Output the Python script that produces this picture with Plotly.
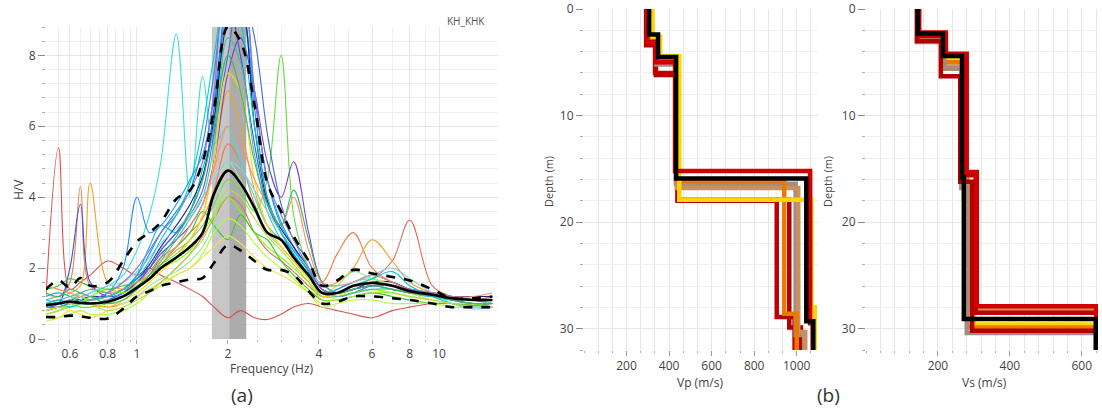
import plotly.graph_objects as go

# ---------------- Panel (a): HVSR curves ----------------
freq = [0.5, 0.55, 0.6, 0.65, 0.7, 0.8, 0.9, 1.0, 1.1, 1.2, 1.35, 1.5, 1.65, 1.8, 2.0, 2.2,
        2.45, 2.7, 3.0, 3.3, 3.7, 4.1, 4.6, 5.2, 6.0, 7.0, 8.0, 9.5, 11, 13, 15]

hv_mean = [0.95, 1.0, 1.05, 1.02, 1.0, 1.05, 1.2, 1.45, 1.7, 2.0, 2.3, 2.6, 3.0, 4.1, 4.75, 4.4,
           3.7, 3.0, 2.8, 2.3, 1.8, 1.3, 1.3, 1.5, 1.58, 1.5, 1.35, 1.25, 1.15, 1.1, 1.1]
hv_upper = [1.4, 1.65, 1.45, 1.72, 1.5, 1.6, 2.2, 2.75, 3.0, 3.3, 3.95, 4.2, 5.0, 6.5, 8.8, 8.4,
            6.6, 4.4, 3.6, 2.9, 2.2, 1.5, 1.65, 1.95, 1.85, 1.75, 1.65, 1.4, 1.15, 1.15, 1.2]
hv_lower = [0.62, 0.62, 0.66, 0.64, 0.6, 0.58, 0.85, 1.2, 1.35, 1.5, 1.6, 1.68, 1.72, 2.15, 2.65, 2.5,
            2.2, 1.95, 1.95, 1.8, 1.35, 1.0, 1.05, 1.2, 1.2, 1.15, 1.1, 1.0, 0.9, 0.9, 0.9]

curve_colors = ["#d9534f", "#e07060", "#e8804a", "#f0a030", "#40e0d0", "#66dd44", "#3355dd",
                "#7744cc", "#2288ee", "#00bcd4", "#1e90ff", "#4169e1", "#1a237e", "#7fff00",
                "#32cd32", "#adff2f", "#90ee90", "#f5e050", "#ffd700", "#40c0a0", "#87ceeb",
                "#ff8c69", "#9370db", "#00ced1", "#3cb371", "#b0e040"]
curves = [
    [1.2, 5.4, 1.4, 1.6, 1.8, 2.2, 2.0, 1.8, 2.0, 1.8, 1.6, 1.4, 1.2, 0.9, 0.6, 0.8, 0.6, 0.55, 0.7, 0.9, 1.0, 0.9, 0.8, 0.7, 0.6, 0.8, 0.9, 1.0, 1.0, 0.95, 1.0],
    [0.9, 1.0, 1.1, 1.2, 1.0, 0.9, 1.0, 1.2, 1.4, 1.6, 2.0, 2.4, 2.9, 3.4, 4.0, 3.8, 3.0, 2.5, 2.2, 1.9, 1.5, 1.2, 1.3, 1.5, 1.7, 2.2, 3.35, 1.5, 1.2, 1.1, 1.2],
    [1.3, 1.2, 1.6, 4.3, 1.5, 1.3, 1.4, 1.6, 1.9, 2.3, 2.6, 3.0, 3.4, 4.2, 5.5, 5.0, 3.8, 3.0, 2.6, 2.2, 1.8, 1.6, 2.4, 3.0, 2.0, 1.6, 1.4, 1.3, 1.2, 1.1, 1.2],
    [1.1, 1.2, 1.3, 1.5, 4.4, 1.6, 1.4, 1.5, 1.8, 2.1, 2.5, 2.8, 3.5, 5.0, 7.0, 6.0, 4.2, 3.2, 2.8, 2.5, 2.0, 1.5, 1.6, 2.0, 2.8, 2.2, 1.6, 1.3, 1.2, 1.1, 1.1],
    [0.9, 1.0, 1.1, 1.2, 1.3, 1.5, 1.8, 2.5, 3.5, 5.0, 8.6, 4.0, 7.4, 5.5, 6.0, 5.0, 4.0, 3.2, 2.8, 2.4, 1.8, 1.3, 1.4, 1.6, 1.7, 1.5, 1.4, 1.2, 1.1, 1.0, 1.0],
    [1.0, 1.1, 1.0, 0.9, 0.9, 1.0, 1.2, 1.5, 1.8, 2.1, 2.4, 2.8, 3.2, 3.8, 4.5, 4.2, 3.6, 4.5, 8.0, 3.5, 2.0, 1.4, 1.3, 1.4, 1.5, 1.4, 1.3, 1.2, 1.1, 1.0, 1.0],
    [0.9, 1.0, 2.0, 3.8, 1.6, 1.2, 1.3, 1.6, 2.0, 2.5, 3.0, 3.6, 4.5, 6.5, 9.5, 8.0, 5.5, 3.8, 3.0, 2.5, 1.9, 1.3, 1.3, 1.5, 1.6, 1.5, 1.4, 1.3, 1.2, 1.1, 1.1],
    [0.8, 0.9, 1.0, 1.1, 1.1, 1.2, 1.4, 1.7, 2.0, 2.4, 2.8, 3.2, 3.8, 5.0, 7.5, 8.5, 7.0, 5.0, 4.0, 5.0, 3.0, 1.6, 1.3, 1.4, 1.5, 1.4, 1.3, 1.2, 1.1, 1.0, 1.0],
    [1.0, 1.1, 1.0, 1.2, 1.1, 1.2, 1.4, 1.8, 2.4, 3.0, 3.6, 4.2, 5.5, 7.5, 10, 9.5, 6.5, 4.0, 3.0, 2.4, 1.8, 1.2, 1.4, 1.6, 1.8, 1.6, 1.4, 1.2, 1.1, 1.1, 1.0],
    [1.2, 1.3, 1.2, 1.1, 1.0, 1.1, 1.3, 1.8, 2.6, 3.2, 3.0, 3.6, 4.8, 6.0, 9.5, 10, 7.0, 4.5, 3.3, 2.6, 1.9, 1.3, 1.3, 1.5, 1.6, 1.5, 1.4, 1.3, 1.2, 1.1, 1.1],
    [0.9, 0.9, 1.0, 1.0, 1.1, 1.3, 2.0, 4.0, 3.0, 3.2, 3.8, 4.5, 5.2, 6.8, 9.0, 9.2, 6.8, 4.5, 3.2, 2.6, 1.9, 1.3, 1.3, 1.4, 1.5, 1.5, 1.3, 1.2, 1.2, 1.1, 1.1],
    [0.8, 0.9, 0.9, 1.0, 1.0, 1.1, 1.3, 1.6, 2.0, 2.5, 3.0, 3.5, 4.2, 5.8, 8.0, 10, 8.5, 5.8, 3.8, 2.8, 2.2, 1.4, 1.2, 1.3, 1.5, 1.5, 1.4, 1.3, 1.2, 1.1, 1.0],
    [1.0, 1.0, 1.1, 1.1, 1.2, 1.2, 1.4, 1.7, 2.1, 2.6, 3.2, 3.8, 4.6, 6.2, 9.0, 9.5, 6.0, 3.9, 3.1, 2.6, 2.0, 1.4, 1.3, 1.4, 1.6, 1.6, 1.4, 1.3, 1.2, 1.2, 1.2],
    [0.7, 0.8, 0.9, 1.0, 1.2, 1.4, 1.3, 1.5, 1.7, 2.0, 2.2, 2.5, 3.0, 3.5, 4.0, 3.6, 3.0, 2.6, 2.3, 2.0, 1.6, 1.2, 1.2, 1.3, 1.4, 1.3, 1.2, 1.1, 1.0, 1.0, 0.9],
    [1.4, 1.5, 1.7, 1.6, 1.5, 1.4, 1.5, 1.6, 1.8, 2.1, 2.6, 3.0, 3.6, 3.2, 2.8, 3.5, 3.0, 2.8, 2.2, 1.8, 1.4, 1.1, 1.1, 1.2, 1.3, 1.2, 1.1, 1.0, 1.0, 0.95, 0.9],
    [0.6, 0.6, 0.7, 0.8, 0.7, 0.7, 0.8, 1.0, 1.3, 1.5, 1.8, 2.0, 2.4, 3.0, 3.4, 3.2, 2.7, 2.3, 2.0, 1.7, 1.3, 0.9, 1.0, 1.1, 1.1, 1.0, 1.0, 1.0, 0.9, 0.9, 0.9],
    [0.9, 1.0, 1.1, 1.3, 1.2, 1.1, 1.0, 1.2, 1.5, 1.7, 1.9, 2.2, 2.6, 3.3, 5.0, 4.5, 3.6, 3.0, 2.6, 2.2, 1.7, 1.3, 1.5, 1.9, 1.7, 1.5, 1.3, 1.2, 1.1, 1.1, 1.0],
    [0.5, 0.6, 0.8, 0.7, 0.6, 0.8, 1.0, 1.2, 1.4, 1.6, 1.8, 2.0, 2.3, 2.6, 2.9, 2.7, 2.3, 2.0, 1.8, 1.6, 1.3, 1.0, 1.2, 1.4, 1.7, 1.5, 1.3, 1.1, 1.0, 1.0, 1.0],
    [0.8, 0.9, 0.9, 1.0, 1.0, 0.9, 1.1, 1.3, 1.6, 1.9, 2.3, 2.8, 3.5, 5.0, 7.5, 7.0, 4.5, 3.2, 2.6, 2.2, 1.7, 1.2, 1.3, 1.5, 1.6, 1.5, 1.4, 1.3, 1.2, 1.1, 1.1],
    [1.0, 1.1, 1.2, 1.3, 1.4, 1.3, 1.2, 1.4, 1.7, 2.2, 2.8, 3.4, 4.0, 5.5, 8.5, 7.8, 5.2, 3.6, 2.8, 2.3, 1.8, 1.3, 1.2, 1.3, 1.4, 1.4, 1.3, 1.2, 1.1, 1.0, 1.0],
    [1.1, 1.2, 1.0, 1.1, 1.3, 1.5, 1.6, 1.9, 2.3, 2.7, 3.1, 3.5, 4.0, 4.5, 5.0, 4.8, 4.2, 3.6, 3.0, 2.5, 2.0, 1.5, 1.5, 1.6, 1.8, 2.0, 1.7, 1.3, 1.0, 0.85, 0.9],
    [1.5, 1.4, 1.3, 1.2, 1.1, 1.2, 1.4, 1.6, 1.8, 2.2, 2.6, 3.2, 3.8, 4.8, 6.0, 5.5, 4.5, 3.8, 3.2, 4.0, 2.5, 1.6, 1.5, 1.6, 1.8, 1.6, 1.4, 1.3, 1.2, 1.2, 1.3],
    [1.0, 1.0, 1.1, 1.0, 1.1, 1.3, 1.6, 2.0, 2.5, 3.0, 3.5, 4.2, 5.0, 7.0, 10, 10, 7.0, 4.5, 3.5, 2.8, 2.0, 1.4, 1.3, 1.4, 1.5, 1.5, 1.4, 1.3, 1.2, 1.1, 1.1],
    [1.1, 1.0, 0.9, 1.0, 1.1, 1.2, 1.4, 1.7, 2.2, 2.8, 3.5, 4.4, 6.0, 8.0, 10, 9.0, 6.0, 4.0, 3.0, 2.5, 1.9, 1.3, 1.3, 1.5, 1.7, 1.9, 1.5, 1.2, 1.0, 0.9, 0.9],
    [1.3, 1.2, 1.4, 1.3, 1.2, 1.0, 1.1, 1.4, 1.8, 2.3, 2.9, 3.6, 4.5, 6.0, 8.0, 7.0, 5.0, 3.8, 3.2, 4.2, 2.8, 1.6, 1.3, 1.4, 1.5, 1.4, 1.3, 1.2, 1.1, 1.0, 1.0],
    [0.7, 0.8, 1.0, 1.2, 1.0, 0.8, 0.9, 1.1, 1.3, 1.6, 2.0, 2.4, 2.8, 3.5, 4.2, 4.0, 3.4, 2.9, 2.5, 2.1, 1.6, 1.1, 1.1, 1.2, 1.3, 1.3, 1.2, 1.1, 1.0, 0.9, 0.9],
]

# peak-frequency band (Hz)
band_light = [1.77, 2.02]
band_dark = [2.02, 2.30]

# ---------------- Panel (b): velocity profiles ----------------
vp_colors = ["#B00000", "#C00000", "#A58B82", "#C8915F", "#E87A00", "#FFD500", "#D40000", "#000000"]
vp_tops = [
    [0, 3.4, 6.2, 17.9, 29.9],
    [0, 3.3, 6.0, 18.0, 28.9],
    [0, 3.0, 5.2, 16.4, 30.6],
    [0, 2.9, 4.9, 16.8, 30.3],
    [0, 2.7, 4.6, 16.2, 28.6],
    [0, 2.6, 4.4, 17.9, 28.0],
    [0, 3.1, 5.0, 15.2, 29.5],
    [0, 2.4, 4.5, 15.9, 29.3],
]
vp_vals = [
    [292, 338, 440, 965, 1020],
    [294, 334, 440, 906, 990],
    [300, 340, 432, 995, 1035],
    [306, 346, 436, 1007, 1040],
    [318, 352, 442, 941, 1000],
    [322, 358, 448, 1068, 1085],
    [298, 338, 428, 1063, 1075],
    [306, 348, 433, 1045, 1078],
]
vs_colors = ["#FFD500", "#E87A00", "#C8915F", "#A58B82", "#B00000", "#C00000", "#D40000", "#000000"]
vs_tops = [
    [0, 2.6, 4.7, 17.8, 29.6],
    [0, 2.8, 5.0, 16.0, 29.9],
    [0, 2.9, 5.4, 16.5, 28.2],
    [0, 3.1, 5.6, 16.8, 30.4],
    [0, 3.0, 6.3, 16.2, 30.2],
    [0, 2.5, 4.3, 15.6, 28.5],
    [0, 2.2, 4.2, 15.3, 27.9],
    [0, 2.3, 4.4, 15.8, 29.1],
]
vs_vals = [
    [145, 218, 272, 300, 640],
    [145, 212, 268, 282, 640],
    [143, 215, 270, 287, 640],
    [141, 218, 265, 280, 640],
    [142, 208, 262, 295, 640],
    [146, 222, 276, 305, 640],
    [148, 222, 280, 308, 640],
    [144, 214, 267, 272, 639],
]
depth_bottom = 32

W, H = 1102, 409
FONT = "Open Sans"
TXT = "#444444"


def px(x):
    return x / W


def py(y):
    return 1 - y / H


fig = go.Figure()

# band in panel (a)
fig.add_shape(type="rect", xref="x", yref="y", x0=band_light[0], x1=band_light[1], y0=0, y1=8.8,
              fillcolor="#BDBDBD", line_width=0, layer="between", opacity=0.85)
fig.add_shape(type="rect", xref="x", yref="y", x0=band_dark[0], x1=band_dark[1], y0=0, y1=8.8,
              fillcolor="#9E9E9E", line_width=0, layer="between", opacity=0.85)

for c, ys in zip(curve_colors, curves):
    fig.add_trace(go.Scatter(x=freq, y=ys, mode="lines", xaxis="x", yaxis="y",
                             line=dict(color=c, width=1.1, shape="spline", smoothing=1.0),
                             showlegend=False, hoverinfo="skip"))
for ys, dash in [(hv_upper, "dash"), (hv_lower, "dash"), (hv_mean, "solid")]:
    fig.add_trace(go.Scatter(x=freq, y=ys, mode="lines", xaxis="x", yaxis="y",
                             line=dict(color="black", width=2.6, dash=dash, shape="spline", smoothing=1.0),
                             showlegend=False, hoverinfo="skip"))

# velocity profiles
for tops, vals, c in zip(vp_tops, vp_vals, vp_colors):
    fig.add_trace(go.Scatter(x=vals + [vals[-1]], y=tops + [depth_bottom], mode="lines",
                             xaxis="x2", yaxis="y2",
                             line=dict(color=c, width=4.5, shape="vh"),
                             showlegend=False, hoverinfo="skip"))
for tops, vals, c in zip(vs_tops, vs_vals, vs_colors):
    fig.add_trace(go.Scatter(x=vals + [vals[-1]], y=tops + [depth_bottom], mode="lines",
                             xaxis="x3", yaxis="y3",
                             line=dict(color=c, width=4.5, shape="vh"),
                             showlegend=False, hoverinfo="skip"))

tickfont = dict(family=FONT, size=12, color=TXT)
grid_major = "#E6E6E6"
grid_minor = "#EFEFEF"

fig.update_layout(
    width=W, height=H, margin=dict(l=0, r=0, t=0, b=0),
    paper_bgcolor="white", plot_bgcolor="white",
    font=dict(family=FONT, color=TXT),
    xaxis=dict(type="log", domain=[px(46), px(498)], range=[-0.30103, 1.195], anchor="y", automargin=False,
               tickvals=[0.6, 0.8, 1, 2, 4, 6, 8, 10], ticktext=["0.6", "0.8", "1", "2", "4", "6", "8", "10"],
               ticks="outside", ticklen=4, tickcolor="#AAAAAA", tickfont=tickfont,
               showgrid=True, gridcolor=grid_major, zeroline=False, showline=False,
               minor=dict(tickvals=[0.5, 0.7, 0.9, 3, 5, 7, 9, 0.55, 0.65, 0.75, 0.85, 0.95, 1.5, 2.5, 3.5, 4.5],
                          ticks="outside", ticklen=2, tickcolor="#BBBBBB", showgrid=True, gridcolor=grid_minor)),
    yaxis=dict(domain=[py(339), py(27)], range=[0, 8.8], anchor="x", automargin=False,
               tickvals=[0, 2, 4, 6, 8], ticks="outside", ticklen=7, tickcolor="#888888", tickfont=tickfont,
               showgrid=True, gridcolor=grid_major, zeroline=False, showline=False,
               minor=dict(dtick=0.4, ticks="outside", ticklen=3, tickcolor="#AAAAAA", showgrid=True, gridcolor=grid_minor)),
    xaxis2=dict(domain=[px(584), px(818)], range=[0, 1100], anchor="y2", automargin=False,
                tickvals=[200, 400, 600, 800, 1000], ticks="outside", ticklen=5, tickcolor="#999999", tickfont=tickfont,
                showgrid=False, zeroline=False, showline=False,
                minor=dict(dtick=200 / 3, ticks="outside", ticklen=2, tickcolor="#AAAAAA", showgrid=True, gridcolor=grid_major)),
    yaxis2=dict(domain=[py(350), py(9)], range=[32, 0], anchor="x2", automargin=False,
                tickvals=[0, 10, 20, 30], ticks="outside", ticklen=7, tickcolor="#888888", tickfont=tickfont,
                showgrid=True, gridcolor=grid_major, zeroline=False, showline=False,
                minor=dict(dtick=2, ticks="outside", ticklen=3, tickcolor="#AAAAAA", showgrid=True, gridcolor=grid_minor)),
    xaxis3=dict(domain=[px(866), px(1098)], range=[0, 645], anchor="y3", automargin=False,
                tickvals=[200, 400, 600], ticks="outside", ticklen=5, tickcolor="#999999", tickfont=tickfont,
                showgrid=False, zeroline=False, showline=False,
                minor=dict(dtick=40, ticks="outside", ticklen=2, tickcolor="#AAAAAA", showgrid=True, gridcolor=grid_major)),
    yaxis3=dict(domain=[py(350), py(9)], range=[32, 0], anchor="x3", automargin=False,
                tickvals=[0, 10, 20, 30], ticks="outside", ticklen=7, tickcolor="#888888", tickfont=tickfont,
                showgrid=True, gridcolor=grid_major, zeroline=False, showline=False,
                minor=dict(dtick=2, ticks="outside", ticklen=3, tickcolor="#AAAAAA", showgrid=True, gridcolor=grid_minor)),
)


def label(text, x, y, size=12, angle=0, color=TXT):
    fig.add_annotation(text=text, x=px(x), y=py(y), xref="paper", yref="paper", showarrow=False,
                       textangle=angle, font=dict(family=FONT, size=size, color=color),
                       xanchor="center", yanchor="middle")


label("H/V", 18, 190, 12, -90)
label("Frequency (Hz)", 272, 368, 12)
label("(a)", 242, 395, 19, 0, "#333333")
label("KH_KHK", 466, 21, 10, 0, "#555555")
label("Depth (m)", 549, 182, 11, -90)
label("Depth (m)", 828, 182, 11, -90)
label("Vp (m/s)", 700, 382, 12)
label("Vs (m/s)", 984, 382, 12)
label("(b)", 828, 395, 19, 0, "#333333")

fig.write_html("out.html", config={"displayModeBar": False},
               post_script="document.body.style.margin='0';document.body.style.overflow='hidden';")
